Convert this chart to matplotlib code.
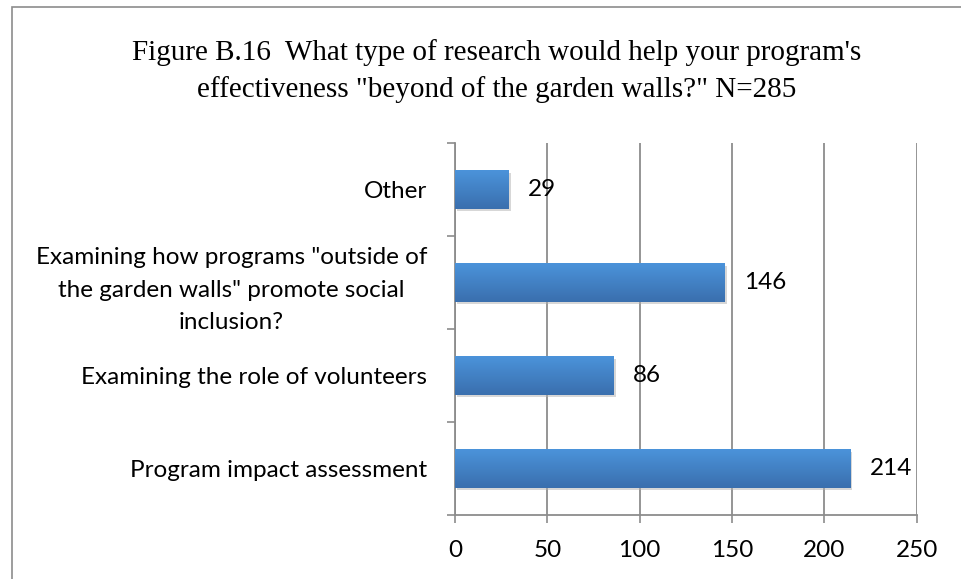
import numpy as np
import matplotlib.pyplot as plt
import matplotlib.patheffects as pe
from matplotlib.patches import Rectangle
from matplotlib.colors import LinearSegmentedColormap

categories = ["Program impact assessment",
              "Examining the role of volunteers",
              "Examining how programs \"outside of\nthe garden walls\" promote social\ninclusion?",
              "Other"]
counts = [214, 86, 146, 29]
x_ticks = [0, 50, 100, 150, 200, 250]
title = ("Figure B.16  What type of research would help your program's\n"
         "effectiveness \"beyond of the garden walls?\" N=285")

label_font = ["Lato", "DejaVu Sans"]
grid_color = "#8c8c8c"
fs = 17.5

fig = plt.figure(figsize=(9.62, 5.79), dpi=100)
ax = fig.add_axes([0.473, 0.1105, 0.480, 0.6425])

# chart border
fig.patches.append(Rectangle((12 / 962, -0.05), 1.0, 1.05 - 7 / 579, transform=fig.transFigure,
                             fill=False, edgecolor="#8c8c8c", linewidth=1.2))

ypos = np.arange(len(categories))
bars = ax.barh(ypos, counts, height=0.41, color="#4584cc", zorder=3,
               path_effects=[pe.SimplePatchShadow(offset=(1.5, -1.5), shadow_rgbFace="#b0b0b0", alpha=0.5),
                             pe.Normal()])

# vertical gradient on each bar (lighter on top)
grad = np.linspace(0, 1, 64).reshape(-1, 1)
cmap = LinearSegmentedColormap.from_list("bar", ["#3a6fae", "#4b93da"])
for b in bars:
    x0, y0, w, h = b.get_x(), b.get_y(), b.get_width(), b.get_height()
    ax.imshow(grad, cmap=cmap, aspect="auto", extent=(x0, x0 + w, y0 + h, y0),
              zorder=4, interpolation="bilinear")

for b, v in zip(bars, counts):
    ax.annotate(str(v), (b.get_width(), b.get_y() + b.get_height() / 2),
                xytext=(14, 0), textcoords="offset points", va="center", ha="left",
                fontsize=fs, family=label_font, zorder=5)

ax.set_xlim(0, 250)
ax.set_ylim(-0.5, len(categories) - 0.5)
ax.set_xticks(x_ticks)
ax.set_xticklabels([str(t) for t in x_ticks], family=label_font, fontsize=fs)
ax.set_yticks(ypos)
ax.set_yticklabels(categories, family=label_font, fontsize=fs, linespacing=1.65,
                   multialignment="center")
ax.set_yticks(np.arange(-0.5, len(categories)), minor=True)
ax.tick_params(axis="y", which="major", length=0, pad=20)
ax.tick_params(axis="y", which="minor", length=6, color=grid_color, width=1.2)
ax.tick_params(axis="x", length=6, color=grid_color, width=1.2, pad=12)

ax.grid(axis="x", color=grid_color, linewidth=1.3, zorder=0)
ax.set_axisbelow(True)
for s in ["top", "right"]:
    ax.spines[s].set_visible(False)
for s in ["left", "bottom"]:
    ax.spines[s].set_color(grid_color)
    ax.spines[s].set_linewidth(1.3)

fig.text(497 / 962, 1 - 71 / 579, title, ha="center", va="center",
         family=["Liberation Serif", "DejaVu Serif"], fontsize=21, linespacing=1.45)

fig.savefig("out.png", dpi=100)
